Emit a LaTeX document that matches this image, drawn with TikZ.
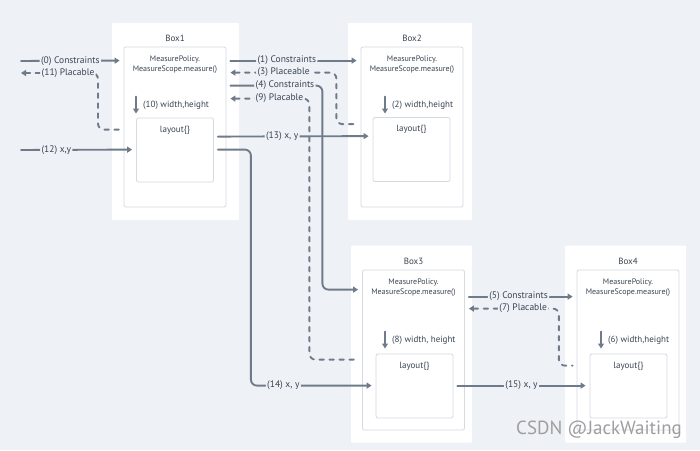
\documentclass[tikz,border=0pt]{standalone}
\usepackage{fontspec}
\setmainfont{PT Sans}
\usetikzlibrary{arrows.meta}
\usetikzlibrary{positioning}
\definecolor{bgc}{HTML}{EEF1F5}
\definecolor{linec}{HTML}{6F7B8A}
\definecolor{framec}{HTML}{D3DAE2}
\definecolor{txtc}{HTML}{3A4452}
\begin{document}
\begin{tikzpicture}[line cap=round,line join=round,>={Triangle[length=5pt,width=6pt]},
		x=1pt,y=-1pt,
		outerbox/.style={fill=white,rounded corners=1pt,inner sep=0pt,minimum height=197pt},
		measbox/.style={draw=framec,line width=0.8pt,fill=white,rounded corners=2pt,inner sep=0pt,minimum width=102pt,minimum height=160pt},
		laybox/.style={draw=framec,line width=0.8pt,fill=white,rounded corners=2pt,inner sep=0pt,minimum width=77pt,minimum height=64pt},
		flow/.style={draw=linec,line width=1.9pt,rounded corners=6pt,shorten <=4pt,shorten >=4pt},
		dflow/.style={flow,dash pattern=on 4.5pt off 5.5pt},
		lbl/.style={fill=bgc,text=txtc,inner sep=1.5pt,font=\fontsize{9.5}{10}\selectfont},
		ttl/.style={text=txtc,font=\fontsize{9}{10}\selectfont},
		mtxt/.style={text=txtc,align=center,font=\fontsize{8}{10}\selectfont},
		whlbl/.style={text=txtc,inner sep=2pt,anchor=west,font=\fontsize{9}{10}\selectfont},
		wmark/.style={text=black!38,font=\fontsize{19}{20}\selectfont}]
		\fill[bgc] (0,0) rectangle (700,450);
		\useasboundingbox (0,0) rectangle (700,450);
		% the four boxes
		\node[outerbox,minimum width=127pt] (box1) at (175.5,121.5) {};
		\node[outerbox,minimum width=124pt] (box2) at (410,121.5) {};
		\node[outerbox,minimum width=121pt] (box3) at (411.5,344) {};
		\node[outerbox,minimum width=121pt] (box4) at (625.5,344) {};
		\node[measbox] (m1) at (175,127) {};
		\node[measbox] (m2) at (412,127) {};
		\node[measbox] (m3) at (413.5,350) {};
		\node[measbox] (m4) at (628,350) {};
		\node[laybox] (l1) at (175,150) {};
		\node[laybox] (l2) at (411.5,149.5) {};
		\node[laybox] (l3) at (414.5,386) {};
		\node[laybox] (l4) at (628.5,386) {};
		\node[ttl,above=1pt of m1] (t1) {Box1};
		\node[ttl,above=1pt of m2] (t2) {Box2};
		\node[ttl,above=1pt of m3] (t3) {Box3};
		\node[ttl,above=1pt of m4] (t4) {Box4};
		\node[mtxt,below=6pt of m1.north] (p1) {MeasurePolicy.\\MeasureScope.measure()};
		\node[mtxt,below=6pt of m2.north] (p2) {MeasurePolicy.\\MeasureScope.measure()};
		\node[mtxt,below=6pt of m3.north] (p3) {MeasurePolicy.\\MeasureScope.measure()};
		\node[mtxt,below=6pt of m4.north] (p4) {MeasurePolicy.\\MeasureScope.measure()};
		\node[ttl,below=5pt of l1.north] (y1) {layout\{\}};
		\node[ttl,below=5pt of l2.north] (y2) {layout\{\}};
		\node[ttl,below=5pt of l3.north] (y3) {layout\{\}};
		\node[ttl,below=5pt of l4.north] (y4) {layout\{\}};
		% width, height
		\node[whlbl] (wh1) at (141,105) {(10) width,height};
		\node[whlbl] (wh2) at (390,105) {(2) width,height};
		\node[whlbl] (wh3) at (390,340) {(8) width, height};
		\node[whlbl] (wh4) at (606,340) {(6) width,height};
		\foreach \w in {wh1,wh2,wh3,wh4}
		\draw[flow,->,shorten <=0pt,shorten >=0pt] ([xshift=-5pt,yshift=8.5pt]\w.west) -- ([xshift=-5pt,yshift=-8.5pt]\w.west);
		% free ends on the left
		\coordinate (in0) at (17,61);
		\coordinate (out11) at (17,73);
		\coordinate (in12) at (17,150);
		% connectors
		\draw[flow,->] (in0) -- node[lbl]{(0) Constraints} ([yshift=-14pt]m1.north west);
		\draw[dflow,<-] (out11) -- node[lbl,pos=0.63]{(11) Placable} ++(81,0) |- ([yshift=-12pt]l1.north -| m1.west);
		\draw[flow,->] (in12) -- node[lbl,pos=0.33]{(12) x,y} ([yshift=-32pt]l1.north west);
		\draw[flow,->] ([yshift=-14pt]m1.north east) -- node[lbl,pos=0.45]{(1) Constraints} ([yshift=-14pt]m2.north west);
		\draw[dflow,<-] ([yshift=-26pt]m1.north east) -- node[lbl,pos=0.52]{(3) Placeable} ++(110,0) |- ([yshift=-7pt]l2.north -| m2.west);
		\draw[flow,->] ([yshift=-39pt]m1.north east) -- node[lbl,pos=0.61]{(4) Constraints} ++(96,0) |- ([yshift=-20pt]m3.north west);
		\draw[dflow,<-] ([yshift=-52pt]m1.north east) -- node[lbl,pos=0.64]{(9) Placable} ++(83,0) |- ([yshift=-6pt]l3.north -| m3.west);
		\draw[flow,->] ([yshift=-19pt]l1.north east) -- node[lbl,pos=0.43]{(13) x, y} ([yshift=-19pt]l2.north west);
		\draw[flow,->] ([yshift=-32pt]l1.north east) -- ++(37,0) |- node[lbl,pos=0.63]{(14) x, y} ([yshift=-32pt]l3.north west);
		\draw[flow,->] ([yshift=-27pt]m3.north east) -- node[lbl,pos=0.48]{(5) Constraints} ([yshift=-27pt]m4.north west);
		\draw[dflow,<-] ([yshift=-39pt]m3.north east) -- node[lbl,pos=0.62]{(7) Placable} ++(94,0) |- ([yshift=-12pt]l4.north -| m4.west);
		\draw[flow,->] ([yshift=-32pt]l3.north east) -- node[lbl]{(15) x, y} ([yshift=-32pt]l4.north west);
		\node[wmark] (wm) at (599,430) {CSDN @JackWaiting};
\end{tikzpicture}
\end{document}
